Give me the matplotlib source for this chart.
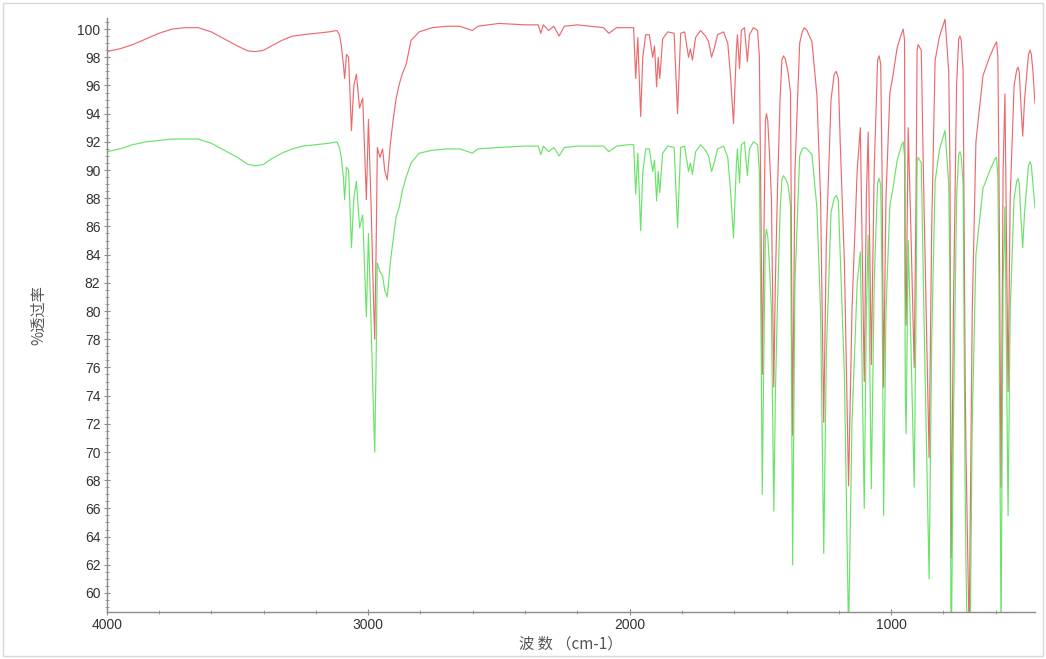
import matplotlib
matplotlib.use("Agg")
import matplotlib.pyplot as plt
from matplotlib.ticker import MultipleLocator
from matplotlib.patches import Rectangle

plt.rcParams['font.family'] = ['Liberation Sans', 'Noto Sans CJK SC', 'DejaVu Sans']

# ---- high-wavenumber part (4000 - 1504 cm-1) ----
wavenumber_hi = [
    4000, 3950, 3900, 3850, 3800, 3750, 3700, 3650, 3600, 3550,
    3500, 3460, 3430, 3400, 3370, 3330, 3290, 3250, 3200, 3150,
    3120, 3110, 3103, 3095, 3090, 3083, 3075, 3064, 3055, 3045,
    3033, 3021, 3007, 2999, 2988, 2980, 2975, 2970, 2965, 2955,
    2945, 2937, 2927, 2915, 2905, 2893, 2881, 2870, 2855, 2836,
    2805, 2755, 2700, 2650, 2602, 2580, 2500, 2400, 2350, 2340,
    2330, 2310, 2290, 2270, 2250, 2200, 2150, 2100, 2080, 2050,
    2003, 1985, 1977, 1969, 1958, 1950, 1939, 1925, 1912, 1905,
    1897, 1891, 1885, 1874, 1855, 1830, 1817, 1805, 1790, 1775,
    1768, 1760, 1748, 1729, 1710, 1698, 1687, 1677, 1664, 1641,
    1625, 1615, 1603, 1592, 1588, 1580, 1573, 1561, 1550, 1542,
    1527, 1511,
]
red_hi = [
    98.4, 98.6, 98.9, 99.3, 99.7, 100.0, 100.1, 100.1, 99.8, 99.3,
    98.8, 98.45, 98.4, 98.5, 98.8, 99.2, 99.5, 99.6, 99.7, 99.8,
    99.9, 99.6, 98.9, 97.5, 96.5, 98.2, 98.0, 92.8, 96.0, 96.8,
    94.4, 95.1, 87.9, 93.6, 86.9, 81.0, 78.0, 84.0, 91.6, 90.9,
    91.5, 90.0, 89.3, 91.9, 93.5, 95.1, 96.1, 96.8, 97.5, 99.2,
    99.8, 100.1, 100.2, 100.2, 99.9, 100.2, 100.4, 100.3, 100.3, 99.7,
    100.3, 99.9, 100.2, 99.5, 100.2, 100.3, 100.2, 100.1, 99.7, 100.1,
    100.1, 100.1, 96.5, 99.4, 93.8, 98.0, 99.6, 99.6, 98.0, 98.8,
    95.9, 98.0, 96.5, 99.3, 99.8, 99.7, 94.0, 99.7, 99.8, 98.0,
    98.6, 97.8, 99.4, 99.9, 99.5, 99.1, 98.0, 98.6, 99.6, 99.8,
    99.0, 96.8, 93.3, 98.5, 99.6, 97.2, 99.9, 100.1, 97.7, 99.6,
    100.1, 99.9,
]
green_hi = [
    91.3, 91.5, 91.8, 92.0, 92.1, 92.2, 92.2, 92.2, 91.9, 91.4,
    90.9, 90.4, 90.3, 90.4, 90.8, 91.2, 91.5, 91.7, 91.8, 91.9,
    92.0, 91.6, 90.9, 89.5, 87.9, 90.2, 90.0, 84.5, 88.0, 89.2,
    85.9, 86.8, 79.6, 85.5, 78.5, 73.0, 70.0, 76.0, 83.4, 82.8,
    82.5, 81.5, 81.0, 83.5, 85.0, 86.7, 87.4, 88.5, 89.5, 90.5,
    91.2, 91.4, 91.5, 91.5, 91.2, 91.5, 91.6, 91.7, 91.7, 91.1,
    91.7, 91.3, 91.6, 91.0, 91.6, 91.7, 91.7, 91.7, 91.3, 91.7,
    91.8, 91.8, 88.3, 91.2, 85.7, 89.8, 91.5, 91.5, 89.9, 90.7,
    87.8, 89.9, 88.4, 91.2, 91.7, 91.6, 85.9, 91.6, 91.7, 89.9,
    90.5, 89.7, 91.3, 91.8, 91.4, 91.0, 89.9, 90.5, 91.5, 91.7,
    90.9, 88.7, 85.2, 90.4, 91.5, 89.1, 91.8, 92.0, 89.6, 91.5,
    92.0, 91.8,
]

# ---- fingerprint part (1504 - 450 cm-1) ----
wavenumber_fp = [
    1504, 1497, 1493, 1487, 1481, 1477, 1472, 1465, 1458, 1449,
    1443, 1435, 1425, 1418, 1412, 1405, 1395, 1385, 1377, 1368,
    1350, 1340, 1332, 1322, 1303, 1284, 1270, 1258, 1248, 1230,
    1218, 1210, 1202, 1195, 1179, 1163, 1150, 1130, 1118, 1103,
    1095, 1088, 1076, 1065, 1052, 1046, 1040, 1035, 1029, 1020,
    1005, 995, 977, 960, 954, 949, 946, 943, 935, 925,
    912, 905, 901, 897, 885, 875, 855, 845, 832, 815,
    794, 780, 775, 771, 762, 750, 742, 737, 732, 725,
    717, 714, 702, 690, 676, 649, 622, 603, 597, 592,
    588, 580, 572, 565, 553, 545, 530, 520, 515, 510,
    505, 497, 490, 475, 469, 464, 458, 450,
]
red_fp = [
    98.0, 85.0, 75.5, 85.0, 93.5, 94.0, 93.5, 91.0, 88.0, 74.6,
    82.0, 88.5, 95.0, 97.8, 98.1, 97.9, 97.0, 95.5, 71.2, 90.0,
    99.0, 99.8, 100.1, 99.9, 99.1, 95.3, 88.0, 72.1, 85.0, 95.0,
    96.8, 97.0, 96.5, 92.0, 83.5, 67.6, 80.0, 90.0, 93.0, 75.0,
    88.0, 92.7, 76.2, 90.0, 97.8, 98.1, 97.5, 90.0, 74.6, 88.0,
    95.5, 96.5, 98.7, 99.7, 100.0, 99.2, 82.0, 79.0, 93.0, 86.0,
    76.0, 88.0, 98.5, 98.9, 98.5, 88.0, 69.6, 86.0, 97.8, 99.5,
    100.7, 97.0, 90.0, 62.5, 80.0, 96.0, 99.3, 99.5, 99.2, 97.0,
    75.0, 70.0, 57.0, 80.0, 92.0, 96.7, 98.1, 98.9, 99.1, 98.0,
    90.0, 67.5, 90.0, 95.4, 74.3, 88.0, 96.0, 97.1, 97.3, 96.9,
    95.0, 92.4, 95.0, 98.2, 98.5, 98.2, 97.0, 94.7,
]
green_fp = [
    89.9, 77.0, 67.0, 77.0, 85.3, 85.8, 85.3, 83.0, 80.0, 65.8,
    74.0, 80.5, 87.0, 89.3, 89.6, 89.4, 89.0, 87.5, 62.0, 82.0,
    91.0, 91.5, 91.6, 91.5, 91.1, 87.3, 80.0, 62.8, 77.0, 87.0,
    88.0, 88.2, 87.8, 84.0, 75.5, 57.0, 72.0, 82.0, 84.2, 66.0,
    80.0, 85.4, 67.4, 82.0, 89.1, 89.4, 88.9, 82.0, 65.5, 80.0,
    87.5, 88.5, 90.7, 91.8, 92.0, 91.0, 74.0, 71.3, 85.0, 78.0,
    67.5, 80.0, 90.6, 90.9, 90.5, 80.0, 61.0, 78.0, 89.2, 91.5,
    92.8, 89.0, 82.0, 54.0, 72.0, 88.0, 91.1, 91.3, 91.0, 89.0,
    67.0, 62.0, 49.0, 72.0, 84.0, 88.7, 90.0, 90.8, 90.9, 89.5,
    82.0, 57.0, 82.0, 87.4, 65.5, 80.0, 88.0, 89.2, 89.4, 89.0,
    87.0, 84.5, 87.0, 90.3, 90.6, 90.3, 89.0, 87.3,
]

wavenumber = wavenumber_hi + wavenumber_fp
red_T = red_hi + red_fp
green_T = green_hi + green_fp

y_ticks = list(range(60, 101, 2))
x_ticks = [4000, 3000, 2000, 1000]

fig = plt.figure(figsize=(10.46, 6.59), dpi=100)
fig.patches.append(Rectangle((0.003, 0.004), 0.994, 0.992, transform=fig.transFigure,
                             fill=False, edgecolor='#d9d9d9', linewidth=1.0))
ax = fig.add_axes([0.1020, 0.0713, 0.8875, 0.9017])

ax.plot(wavenumber, red_T, color='#e8454a', lw=0.85, alpha=0.8)
ax.plot(wavenumber, green_T, color='#45dc45', lw=0.85, alpha=0.8)

ax.set_xlim(4000, 450)
ax.set_ylim(58.65, 100.8)
ax.set_xticks(x_ticks)
ax.set_xticklabels([str(v) for v in x_ticks])
ax.xaxis.set_minor_locator(MultipleLocator(200))
ax.set_yticks(y_ticks)
ax.yaxis.set_minor_locator(MultipleLocator(0.5))

for s in ['top', 'right']:
    ax.spines[s].set_visible(False)
for s in ['left', 'bottom']:
    ax.spines[s].set_color('#8c8c8c')
    ax.spines[s].set_linewidth(1.0)

ax.tick_params(axis='both', which='major', direction='inout', length=5, width=0.8,
               color='#8c8c8c', labelsize=10, labelcolor='#333333', pad=2)
ax.tick_params(axis='both', which='minor', direction='inout', length=3, width=0.6,
               color='#8c8c8c')

ax.set_ylabel('%透过率', fontsize=11, color='#555555', labelpad=22,
              family=['Noto Sans CJK SC', 'DejaVu Sans'])
ax.set_xlabel('波 数 （cm-1）', fontsize=11, color='#555555', labelpad=2,
              family=['Noto Sans CJK SC', 'DejaVu Sans'])

fig.savefig('out.png', dpi=100)
